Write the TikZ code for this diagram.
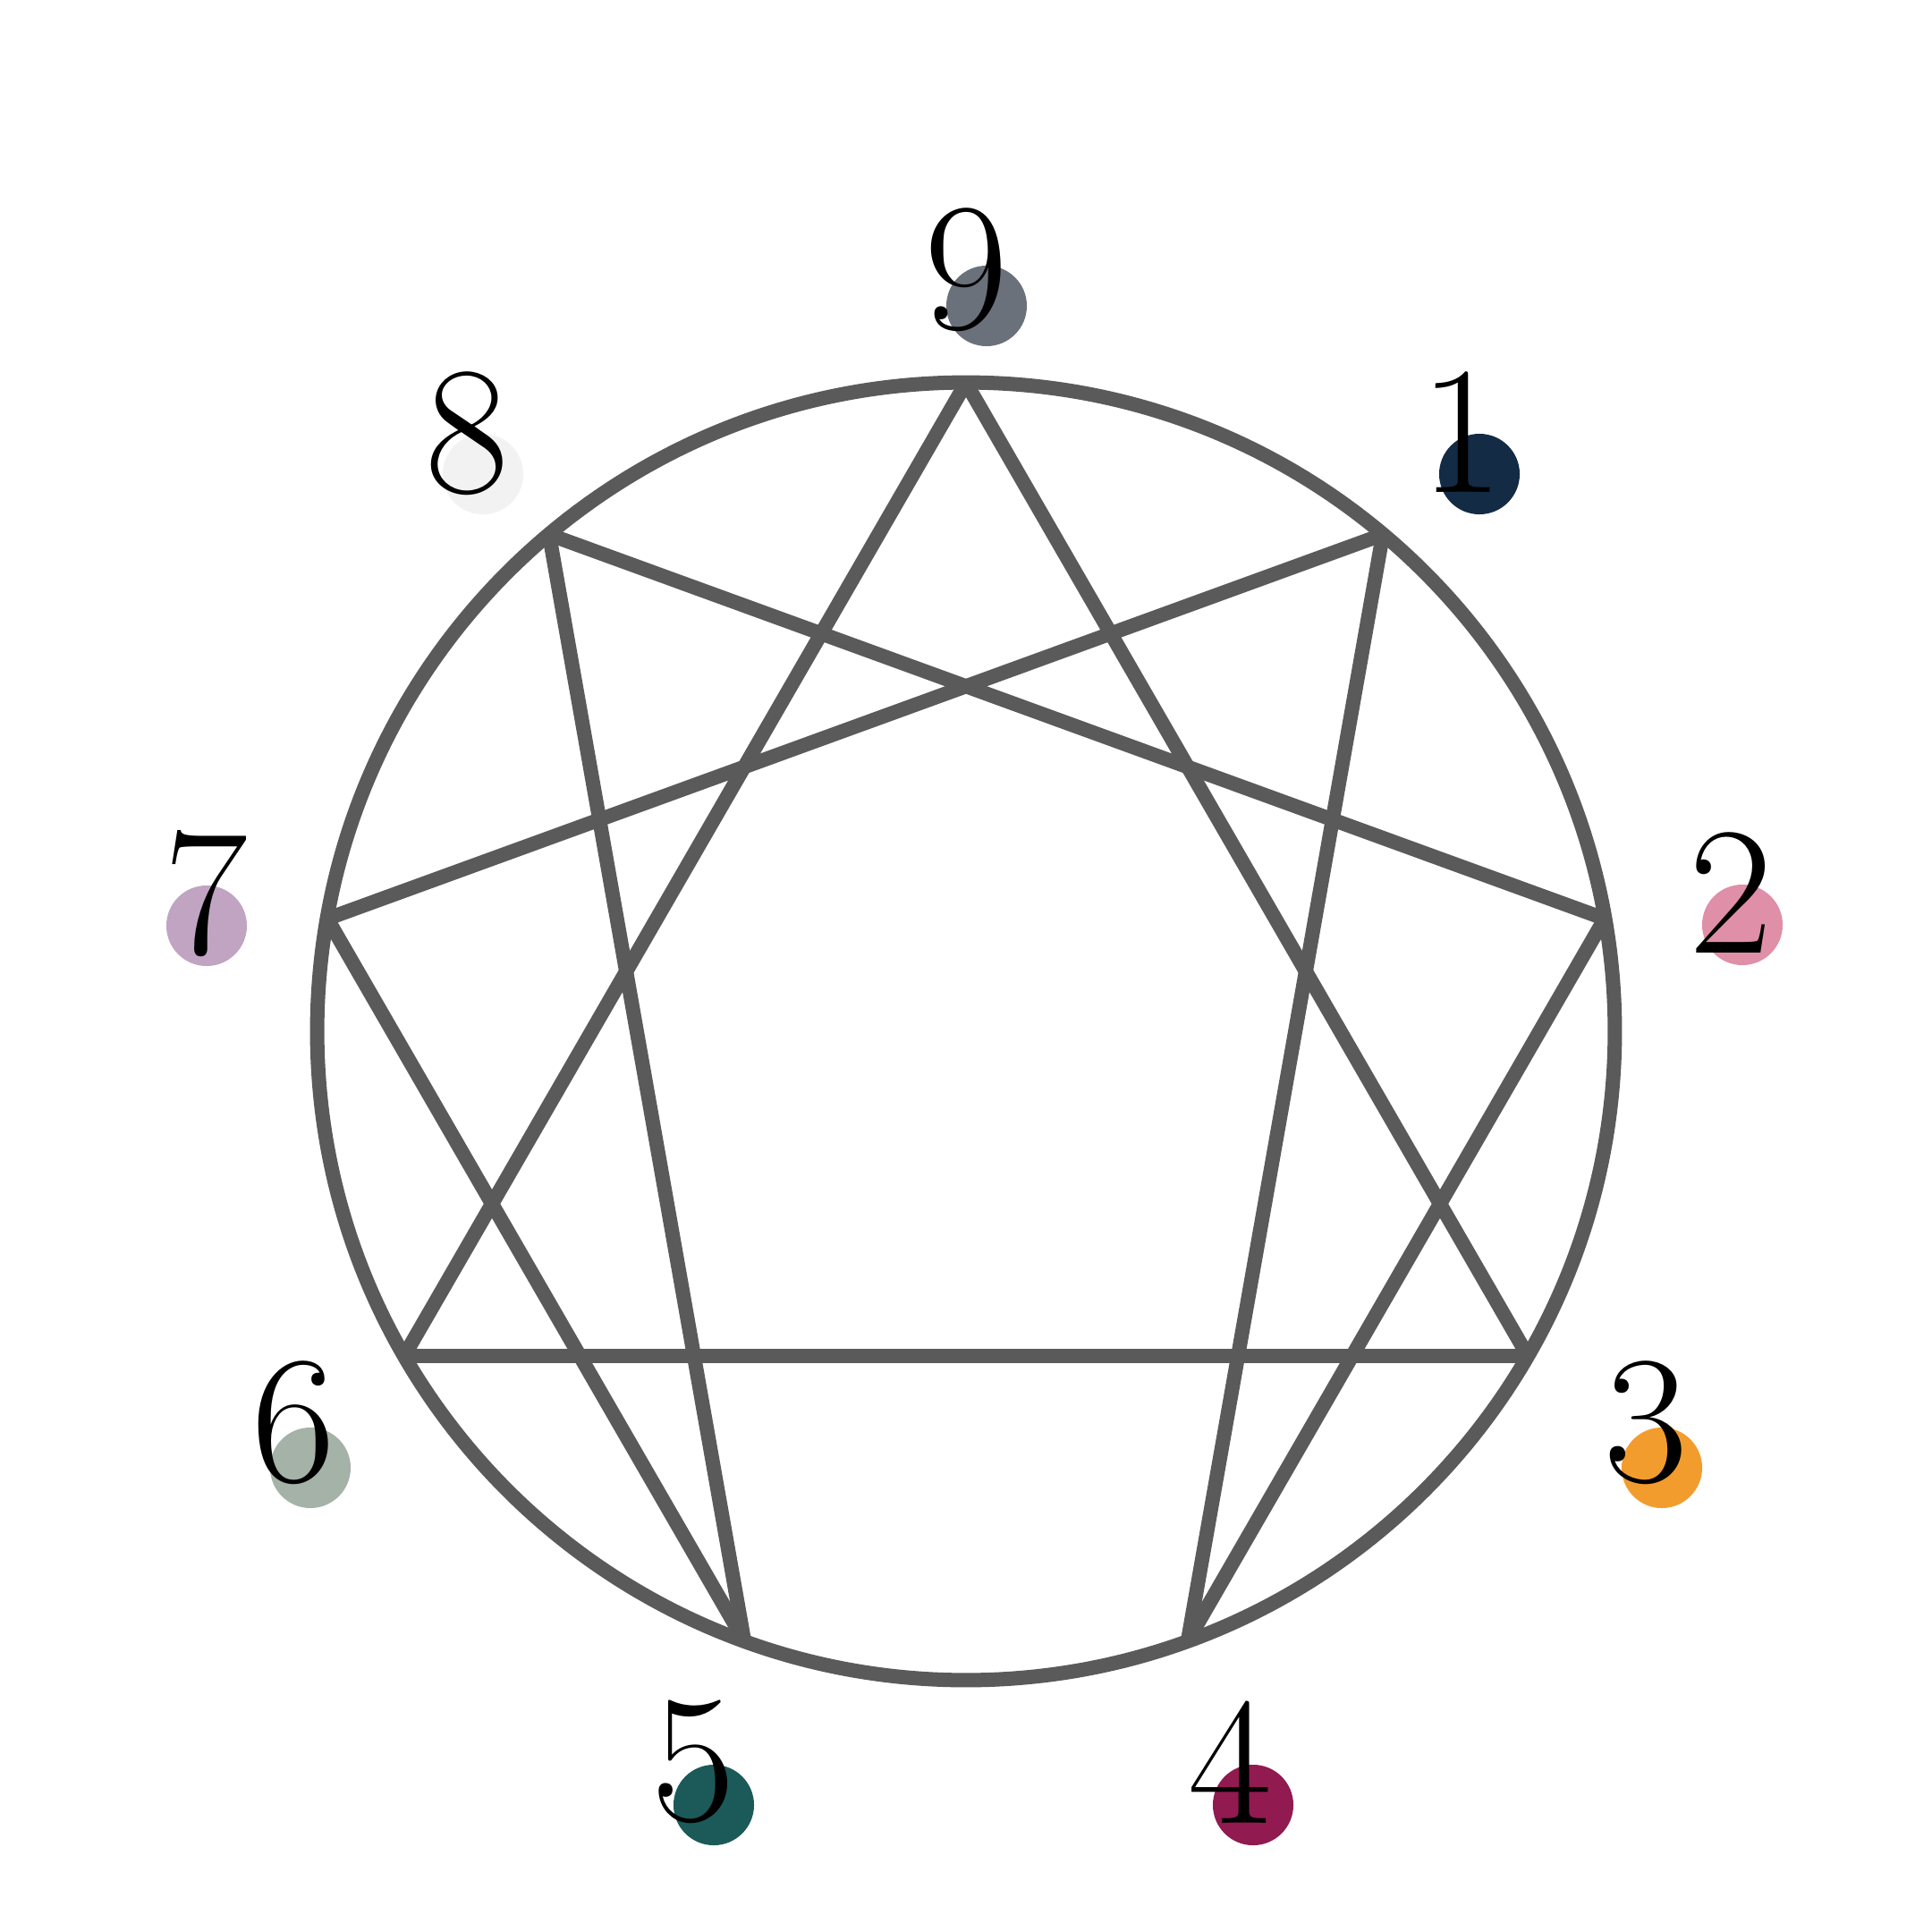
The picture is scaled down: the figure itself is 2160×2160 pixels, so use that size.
\documentclass[tikz,border=0pt]{standalone}
\usetikzlibrary{calc}
\definecolor{linegray}{HTML}{5A5A5A}
\definecolor{cnine}{HTML}{6B717B}
\definecolor{cone}{HTML}{132B45}
\definecolor{ctwo}{HTML}{DF8FA8}
\definecolor{cthree}{HTML}{F39C2E}
\definecolor{cfour}{HTML}{911A50}
\definecolor{cfive}{HTML}{1C5A5A}
\definecolor{csix}{HTML}{A4B2A8}
\definecolor{cseven}{HTML}{C0A4C2}
\definecolor{ceight}{HTML}{F2F2F2}
\tikzset{
  edge/.style={draw=linegray, line width=0.16cm, line cap=butt},
  dot/.style={circle, inner sep=0pt, minimum size=0.9cm},
  digit/.style={inner sep=0pt, anchor=center, font=\fontsize{58}{62}\selectfont},
}
\begin{document}
\begin{tikzpicture}[x=0.01cm, y=-0.01cm]
\useasboundingbox (0,0) rectangle (2160,2160);
\fill[white] (0,0) rectangle (2160,2160);
\coordinate (c) at (1080,1153);
\foreach \k in {0,...,8} {
  \coordinate (p\k) at ($(c)+({725*sin(40*\k)},{-725*cos(40*\k)})$);
}
% dots
\node[dot, fill=cnine]  (d9) at (1103,342) {};
\node[dot, fill=cone]   (d1) at (1654,530) {};
\node[dot, fill=ctwo]   (d2) at (1948,1034) {};
\node[dot, fill=cthree] (d3) at (1858,1641) {};
\node[dot, fill=cfour]  (d4) at (1401,2018) {};
\node[dot, fill=cfive]  (d5) at (798,2018) {};
\node[dot, fill=csix]   (d6) at (347,1641) {};
\node[dot, fill=cseven] (d7) at (231,1035) {};
\node[dot, fill=ceight] (d8) at (540,530) {};
% lines
\foreach \a/\b in {0/3,3/6,6/0,1/4,4/2,2/8,8/5,5/7,7/1} {
  \draw[edge] (p\a) -- (p\b);
}
\draw[edge] (c) circle [radius=7.25cm];
% digits
\node[digit] (t9) at (1080,302) {9};
\node[digit] (t1) at (1634,483) {1};
\node[digit] (t2) at (1935,998) {2};
\node[digit] (t3) at (1840,1591) {3};
\node[digit] (t4) at (1375,1970) {4};
\node[digit] (t5) at (775,1970) {5};
\node[digit] (t6) at (328,1591) {6};
\node[digit] (t7) at (230,999) {7};
\node[digit] (t8) at (522,485) {8};
\end{tikzpicture}
\end{document}
